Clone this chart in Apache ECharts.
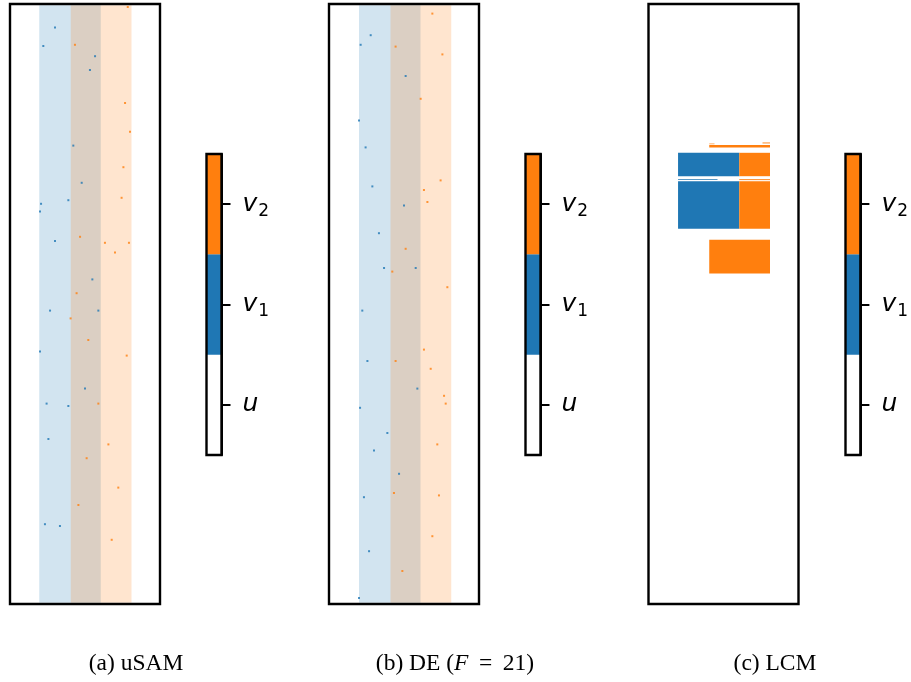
<!DOCTYPE html>
<html><head><meta charset="utf-8">
<style>html,body{margin:0;padding:0;background:#fff}#c{width:911px;height:682px}</style>
<script src="https://cdn.jsdelivr.net/npm/echarts@6/dist/echarts.min.js"></script>
</head><body><div id="c"></div>
<script>
const BLUE = '#1f77b4', ORANGE = '#ff7f0e';
const captions = ['{r|(a) uSAM}', '{r|(b) DE (}{i|F}{r|\u2009 = \u200921)}', '{r|(c) LCM}'];
const cbarCategories = ['u', 'v1', 'v2'];
const cbarColors = ['#ffffff', BLUE, ORANGE];
const cbarValues = [1, 1, 1];

// [xStart, xEnd, yStart, yEnd, pointDensity] — density read by eye from the dust
const blueBandsA = [[0.195, 0.605, 0.002, 0.998, 0.2]];
const orangeBandsA = [[0.405, 0.81, 0.002, 0.998, 0.2]];
const blueBandsB = [[0.2, 0.61, 0.002, 0.998, 0.2]];
const orangeBandsB = [[0.41, 0.815, 0.002, 0.998, 0.2]];
const blueRectsC = [
  [0.197, 0.605, 0.713, 0.752, 1], [0.197, 0.46, 0.7065, 0.708, 1], [0.197, 0.605, 0.6255, 0.7045, 1]
];
const orangeRectsC = [
  [0.605, 0.81, 0.713, 0.752, 1], [0.605, 0.81, 0.7065, 0.708, 1], [0.605, 0.81, 0.6255, 0.7045, 1],
  [0.405, 0.81, 0.551, 0.607, 1], [0.405, 0.81, 0.761, 0.765, 1], [0.405, 0.44, 0.766, 0.768, 0.5], [0.76, 0.81, 0.767, 0.77, 0.5]
];

// The most visible darker specks: [x, y]
const blueSpecksA = [[.207,.667],[.3,.605],[.2,.654],[.389,.673],[.256,.275],[.233,.133],[.333,.13],[.3,.961],[.222,.93],[.567,.913],[.422,.764],[.533,.89],[.5,.359],[.478,.702],[.389,.33],[.267,.489],[.2,.421],[.244,.334],[.589,.489],[.549,.541]];
const orangeSpecksA = [[.404,.476],[.8,.787],[.785,.995],[.744,.677],[.778,.414],[.444,.518],[.722,.194],[.656,.266],[.756,.728],[.511,.243],[.456,.165],[.7,.586],[.633,.602],[.793,.602],[.767,.835],[.433,.932],[.589,.334],[.678,.107],[.522,.44],[.467,.612]];
const blueSpecksB = [[.211,.932],[.2,.806],[.244,.761],[.278,.948],[.289,.696],[.222,.489],[.256,.405],[.207,.327],[.389,.285],[.233,.178],[.267,.088],[.2,.01],[.367,.56],[.589,.359],[.511,.88],[.578,.56],[.5,.664],[.467,.217],[.3,.256],[.333,.618]];
const orangeSpecksB = [[.422,.554],[.633,.69],[.689,.984],[.744,.706],[.733,.181],[.722,.266],[.778,.334],[.444,.929],[.511,.592],[.611,.842],[.656,.67],[.689,.113],[.433,.185],[.789,.528],[.767,.347],[.633,.424],[.489,.055],[.444,.405],[.678,.392],[.756,.916]];

const panels = [
  {left: 10, bar: 206.5, cap: 131, blue: blueBandsA, orange: orangeBandsA, bs: blueSpecksA, os: orangeSpecksA},
  {left: 329, bar: 525.5, cap: 450, blue: blueBandsB, orange: orangeBandsB, bs: blueSpecksB, os: orangeSpecksB},
  {left: 648.5, bar: 845.5, cap: 770, blue: blueRectsC, orange: orangeRectsC, bs: [], os: []}
];

function rectSeries(rows, color, gi) {
  return {
    type: 'custom', xAxisIndex: gi, yAxisIndex: gi, data: rows, silent: true,
    encode: {x: [0, 1], y: [2, 3]},
    renderItem(params, api) {
      const a = api.coord([api.value(0), api.value(3)]);
      const b = api.coord([api.value(1), api.value(2)]);
      return {type: 'rect', shape: {x: a[0], y: a[1], width: b[0] - a[0], height: b[1] - a[1]},
              style: {fill: color, opacity: api.value(4)}};
    }
  };
}
function speckSeries(pts, color, gi) {
  return {type: 'scatter', xAxisIndex: gi, yAxisIndex: gi, data: pts, symbol: 'rect', symbolSize: 2,
          silent: true, itemStyle: {color, opacity: 0.8}};
}

const grid = [], xAxis = [], yAxis = [], series = [], title = [];
const capRich = {
  r: {fontFamily: 'Liberation Serif', fontSize: 23.5, fontWeight: 'normal', color: '#000'},
  i: {fontFamily: 'Liberation Serif', fontSize: 23.5, fontWeight: 'normal', fontStyle: 'italic', color: '#000'}
};
panels.forEach((p, k) => {
  const gi = grid.length;
  grid.push({left: p.left, top: 4, width: 150, height: 600, show: true, borderColor: '#000', borderWidth: 2.4, z: 10, backgroundColor: 'transparent'});
  xAxis.push({gridIndex: gi, type: 'value', min: 0, max: 1, show: false});
  yAxis.push({gridIndex: gi, type: 'value', min: 0, max: 1, show: false});
  series.push(rectSeries(p.blue, BLUE, gi), rectSeries(p.orange, ORANGE, gi));
  if (p.bs.length) series.push(speckSeries(p.bs, BLUE, gi), speckSeries(p.os, ORANGE, gi));

  const gb = grid.length;
  grid.push({left: p.bar, top: 154, width: 15, height: 301, show: true, borderColor: '#000', borderWidth: 2.4, z: 10, backgroundColor: 'transparent'});
  xAxis.push({gridIndex: gb, type: 'value', min: 0, max: 1, show: false});
  yAxis.push({
    gridIndex: gb, type: 'category', position: 'right', data: cbarCategories, z: 20,
    axisLine: {show: true, onZero: false, lineStyle: {color: '#000', width: 2}},
    axisTick: {show: true, alignWithLabel: true, length: 9, lineStyle: {color: '#000', width: 2}},
    axisLabel: {
      margin: 21, align: 'left',
      formatter: v => v === 'u' ? '{i|u}' : '{i|v}{s|' + v[1] + '}',
      rich: {
        i: {fontFamily: 'DejaVu Sans', fontStyle: 'italic', fontSize: 25, color: '#000', lineHeight: 32},
        s: {fontFamily: 'DejaVu Sans', fontSize: 17, color: '#000', lineHeight: 17, verticalAlign: 'bottom', padding: [0, 0, 0, 1]}
      }
    }
  });
  series.push({
    type: 'bar', xAxisIndex: gb, yAxisIndex: gb, barWidth: '100%', silent: true, z: 1,
    data: cbarValues.map((v, i) => ({value: v, itemStyle: {color: cbarColors[i]}}))
  });

  title.push({text: captions[k], left: p.cap, top: 647, textAlign: 'center', textStyle: {rich: capRich, fontFamily: 'Liberation Serif', fontSize: 23.5, fontWeight: 'normal'}});
});

const chart = echarts.init(document.getElementById('c'), null, {renderer: 'canvas'});
chart.setOption({animation: false, backgroundColor: '#fff', title, grid, xAxis, yAxis, series, tooltip: {show: false}});
</script></body></html>
